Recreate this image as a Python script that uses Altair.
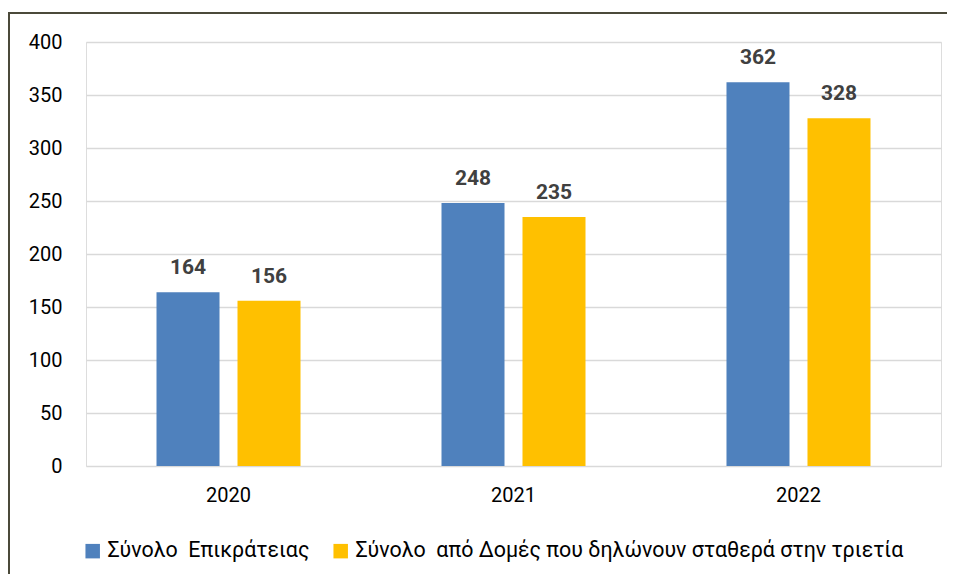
import altair as alt
import pandas as pd

years = ["2020", "2021", "2022"]
series = ["Σύνολο\u00a0 Επικράτειας", "Σύνολο\u00a0 από Δομές που δηλώνουν σταθερά στην τριετία"]
total = [164, 248, 362]
stable = [156, 235, 328]
colors = ["#4F81BD", "#FFC000"]

rows = []
for i, y in enumerate(years):
    rows.append({"year": y, "series": series[0], "value": total[i]})
    rows.append({"year": y, "series": series[1], "value": stable[i]})
df = pd.DataFrame(rows)

W, H = 855, 424
FONT = "Roboto"

x = alt.X("year:N", sort=years, title=None,
          scale=alt.Scale(paddingInner=0.4947, paddingOuter=0.2474),
          axis=alt.Axis(labelAngle=0, labelFontSize=20, labelColor="#000000",
                        labelFont=FONT, ticks=False, domain=False, labelPadding=19))
xo = alt.XOffset("series:N", sort=series,
                 scale=alt.Scale(paddingInner=0.222, paddingOuter=0))
y = alt.Y("value:Q", title=None,
          scale=alt.Scale(domain=[0, 400], nice=False),
          axis=alt.Axis(values=list(range(0, 401, 50)), labelFontSize=20, labelColor="#000000",
                        labelFont=FONT, ticks=False, domain=False, labelPadding=24,
                        gridColor="#D9D9D9", gridWidth=1.5))
color = alt.Color("series:N", sort=series, title=None,
                  scale=alt.Scale(domain=series, range=colors),
                  legend=alt.Legend(orient="none", legendX=-4, legendY=498, direction="horizontal",
                                    symbolType="square", symbolSize=210, symbolStrokeWidth=0,
                                    labelFontSize=21.4, labelFont=FONT, labelColor="#000000",
                                    columnPadding=20, labelOffset=4, padding=0, labelLimit=1000))

base = alt.Chart(df)
bars = base.mark_bar().encode(x=x, xOffset=xo, y=y, color=color)
labels = base.mark_text(fontWeight="bold", fontSize=21, font=FONT, color="#404040",
                        baseline="alphabetic", dy=-18).encode(
    x=alt.X("year:N", sort=years), xOffset=alt.XOffset("series:N", sort=series),
    y="value:Q", text="value:Q")

frame = pd.DataFrame({"a": [0]})
top_edge = alt.Chart(frame).mark_rule(stroke="#4B4A3A", strokeWidth=2, strokeCap="butt").encode(
    x=alt.value(-77), x2=alt.value(W + 6), y=alt.value(-29))
left_edge = alt.Chart(frame).mark_rule(stroke="#4B4A3A", strokeWidth=2, strokeCap="butt").encode(
    x=alt.value(-77), y=alt.value(-30), y2=alt.value(H + 108))

chart = alt.layer(top_edge, left_edge, bars, labels).properties(
    width=W, height=H,
    autosize=alt.AutoSizeParams(type="none"),
    padding={"left": 78, "top": 34, "right": 8, "bottom": 108},
).configure_view(stroke=None).configure(background="#FFFFFF")

chart.save("out.html", embed_options={"renderer": "svg", "actions": False})
